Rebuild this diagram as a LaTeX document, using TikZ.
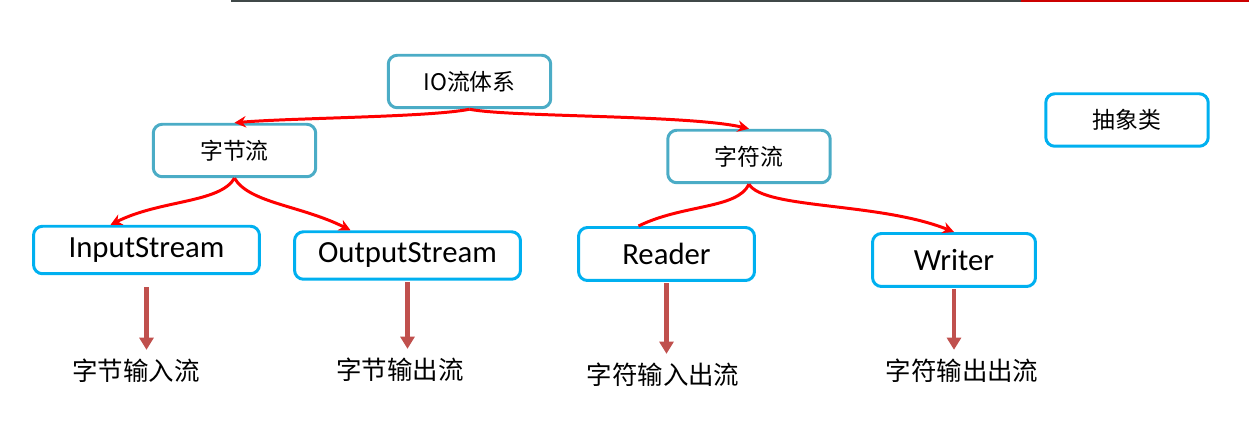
\documentclass[tikz,border=0pt]{standalone}
\usepackage{fontspec}
\setmainfont{Carlito}
\newfontfamily\cjk{Noto Sans CJK SC}
\usetikzlibrary{arrows.meta,positioning}
\definecolor{boxteal}{RGB}{75,172,198}
\definecolor{boxcyan}{RGB}{0,176,240}
\definecolor{linkred}{RGB}{255,0,0}
\definecolor{downbrown}{RGB}{192,80,77}
\definecolor{rulegray}{RGB}{64,72,72}
\definecolor{rulered}{RGB}{204,0,0}

\begin{document}
\begin{tikzpicture}[x=0.02cm, y=-0.02cm,
  group/.style={draw=boxteal, line width=1.7pt, rounded corners=0.18cm, minimum width=3.25cm, minimum height=1.05cm, font=\cjk\fontsize{13}{15}\selectfont},
  cls/.style={draw=boxcyan, line width=1.7pt, rounded corners=0.18cm, minimum height=0.95cm, font=\fontsize{17.5}{20}\selectfont},
  kind/.style={inner sep=0pt, font=\cjk\fontsize{14.5}{17}\selectfont},
  arr/.style={-{Stealth[length=6.5pt,width=6.5pt]}, line width=1.7pt, linkred},
  down/.style={-{Triangle[length=7pt,width=8pt]}, line width=2.5pt, downbrown, shorten <=0.03cm, shorten >=0.18cm}
]
\useasboundingbox (0,0) rectangle (1249,438);
\fill[rulegray] (231,0) rectangle (1021,2);
\fill[rulered] (1021,0) rectangle (1249,2);

\node[group] (iosys) at (469.5,81.5) {IO流体系};
\node[group] (bytes) at (234.5,150.5) {字节流};
\node[group] (chars) at (749,156.5) {字符流};
\node[group, draw=boxcyan] (abstr) at (1127,120) {抽象类};

\node[cls, minimum width=4.52cm] (instr) at (146.5,250) {InputStream};
\node[cls, minimum width=4.52cm] (outstr) at (407.5,255.5) {OutputStream};
\node[cls, minimum width=3.52cm, minimum height=1.06cm] (reader) at (666.5,254) {Reader};
\node[cls, minimum width=3.26cm, minimum height=1.06cm] (writer) at (954,260) {Writer};

\node[kind] (bin) at (136,371) {字节输入流};
\node[kind] (bout) at (400,370) {字节输出流};
\node[kind] (cin) at (663,375) {字符输入出流};
\node[kind] (cout) at (962,371) {字符输出出流};

\draw[arr] (iosys.south) .. controls +(-40,8) and +(60,-5) .. (bytes.north);
\draw[arr] (iosys.south) .. controls +(40,8) and +(-60,-14) .. (chars.north);
\draw[arr] (bytes.south) .. controls +(-15,25) and +(50,-25) .. ([xshift=-0.72cm]instr.north);
\draw[arr] (bytes.south) .. controls +(15,25) and +(-50,-25) .. ([xshift=-1.14cm]outstr.north);
\draw[linkred, line width=1.7pt] (chars.south) .. controls +(-12,25) and +(45,-22) .. ([xshift=-0.56cm]reader.north);
\draw[arr] (chars.south) .. controls +(15,25) and +(-75,-30) .. (writer.north);

\draw[down, shorten <=0.24cm] (instr.south) -- (instr.south |- bin.north);
\draw[down] (outstr.south) -- (outstr.south |- bout.north);
\draw[down] (reader.south) -- (reader.south |- cin.north);
\draw[down] (writer.south) -- (writer.south |- cout.north);
\end{tikzpicture}
\end{document}
